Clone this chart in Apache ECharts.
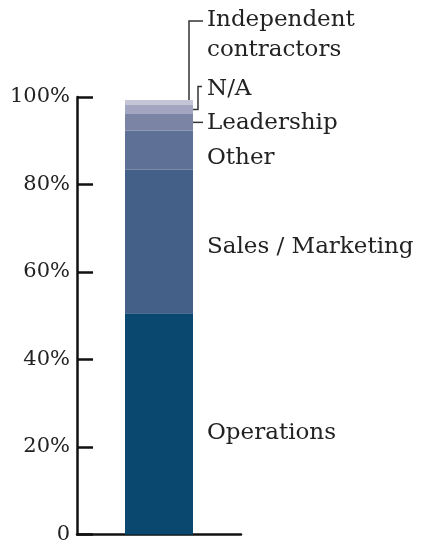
<!DOCTYPE html>
<html>
<head>
<meta charset="utf-8">
<script src="https://cdn.jsdelivr.net/npm/echarts@6/dist/echarts.min.js"></script>
<style>
  html, body { margin: 0; padding: 0; background: #fff; }
  #chart { width: 428px; height: 545px; }
</style>
</head>
<body>
<div id="chart"></div>
<script>
// share of respondents by role, stacked bottom to top
const categories = ['']
const roles = ['Operations', 'Sales / Marketing', 'Other', 'Leadership', 'N/A', 'Independent\ncontractors']
const shares = [50.6, 32.8, 8.9, 3.8, 2.1, 1.1]
const yTicks = [0, 20, 40, 60, 80, 100]

const colors = ['#0b4870', '#445f88', '#5e7096', '#7b84a5', '#a3a6c1', '#c4c6d6']
// label offsets (px) from segment middle
const labelDy = [9, 6, 8, 1, -20, -67]

const FONT = 'DejaVu Serif'
const chart = echarts.init(document.getElementById('chart'))

const option = {
    animation: false,
    grid: { left: 77, right: 187, top: 97, bottom: 9 },
    xAxis: {
        type: 'category',
        data: categories,
        axisLine: { lineStyle: { color: '#111', width: 2.5 } },
        axisTick: { inside: true, length: 10, lineStyle: { color: '#111', width: 2.5 } },
        axisLabel: { show: false }
    },
    yAxis: {
        type: 'value',
        min: yTicks[0],
        max: yTicks[yTicks.length - 1],
        interval: 20,
        splitLine: { show: false },
        axisLine: { show: true, lineStyle: { color: '#111', width: 2.5 } },
        axisTick: { show: true, inside: true, length: 16, lineStyle: { color: '#111', width: 2.5 } },
        axisLabel: {
            margin: 7,
            color: '#222',
            fontFamily: FONT,
            fontSize: 21,
            formatter: v => v === 0 ? '0' : v + '%'
        }
    },
    series: roles.map((name, i) => ({
        name: name,
        type: 'bar',
        stack: 'total',
        barWidth: 68,
        data: [shares[i]],
        itemStyle: { color: colors[i] },
        label: {
            show: true,
            position: 'right',
            distance: 14,
            offset: [0, labelDy[i]],
            formatter: name,
            color: '#222',
            fontFamily: FONT,
            fontSize: 23,
            lineHeight: 30
        }
    }))
}
chart.setOption(option)

// leader lines for the thin segments at the top
const cum = []
shares.reduce((a, v, i) => { cum[i] = a + v; return cum[i] }, 0)
const cx = chart.convertToPixel({ xAxisIndex: 0 }, 0)
const right = cx + 34
const yAt = v => chart.convertToPixel({ yAxisIndex: 0 }, v)
const lineStyle = { stroke: '#333', lineWidth: 1.5, fill: null }

const yLead = (cum[2] + cum[3]) / 2
const yNa = (cum[3] + cum[4]) / 2
const yIc = cum[5]

chart.setOption({
    graphic: [
        { type: 'polyline', shape: { points: [[right, yAt(yLead)], [right + 10, yAt(yLead)]] }, style: lineStyle },
        { type: 'polyline', shape: { points: [[right, yAt(yNa)], [right + 5, yAt(yNa)], [right + 5, yAt(yNa) - 23], [right + 9, yAt(yNa) - 23]] }, style: lineStyle },
        { type: 'polyline', shape: { points: [[right - 4, yAt(yIc) + 1], [right - 4, 21], [right + 10, 21]] }, style: lineStyle }
    ]
})
</script>
</body>
</html>
